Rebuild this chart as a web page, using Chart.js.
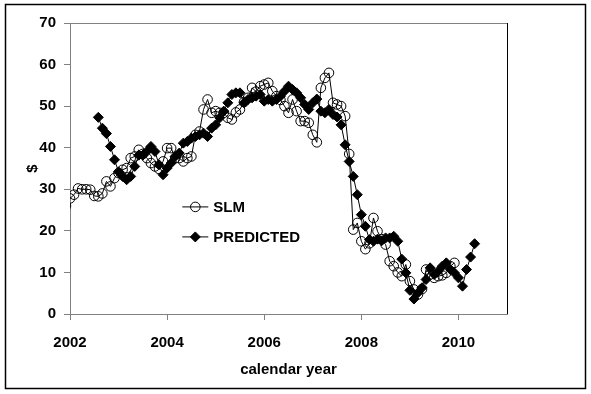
<!DOCTYPE html>
<html>
<head>
<meta charset="utf-8">
<script src="https://cdn.jsdelivr.net/npm/chart.js@4.4.1/dist/chart.umd.min.js"></script>
<style>
html, body { margin: 0; padding: 0; background: #fff; }
#marco { position: relative; width: 591px; height: 394px; }
</style>
</head>
<body>
<div id="marco"><canvas id="grafico" width="591" height="394"></canvas></div>
<script>
// SLM mensual, primer valor = diciembre 2001 (queda fuera del eje)
const slmInicio = [2001, 12];
const slmValores = [
    26.0,
    27.8, 28.7, 30.2, 30.0, 30.0, 29.9, 28.4, 28.3, 29.0, 31.9, 30.7, 32.7,
    33.9, 34.7, 35.1, 37.5, 37.9, 39.5, 38.5, 37.5, 36.3, 35.5, 34.9, 36.7,
    39.9, 39.9, 37.5, 37.5, 36.7, 37.5, 37.9, 43.1, 43.9, 49.2, 51.6, 48.4,
    48.8, 48.4, 48.4, 47.2, 46.8, 48.5, 49.2, 51.0, 52.0, 54.4, 53.5, 54.8,
    55.2, 55.6, 53.6, 52.4, 51.5, 50.0, 48.4, 51.6, 48.8, 46.4, 46.4, 46.0,
    43.1, 41.3, 54.4, 56.8, 58.0, 50.8, 50.4, 50.0, 47.6, 38.5, 20.3, 21.9,
    17.5, 15.6, 17.0, 23.1, 19.9, 18.0, 16.7, 12.7, 11.5, 10.0, 9.1, 11.9,
    7.9, 5.9, 4.7, 6.0, 10.7, 9.5, 8.7, 9.1, 9.3, 9.9, 11.5, 12.3
];

// PREDICTED mensual desde agosto 2002
const predInicio = [2002, 8];
const predValores = [
    47.3, 44.7, 43.4, 40.3, 37.1,
    34.2, 33.1, 32.3, 33.1, 35.5, 38.2, 38.2, 39.1, 40.3, 39.1, 35.9, 33.5,
    35.1, 36.3, 37.9, 38.7, 41.1, 41.5, 42.3, 42.7, 43.1, 43.5, 42.7, 44.7,
    45.5, 47.2, 48.8, 50.8, 52.8, 53.2, 53.2, 50.8, 51.6, 52.0, 52.4, 52.8,
    51.2, 51.6, 51.2, 51.6, 52.4, 53.6, 54.8, 54.0, 53.2, 52.0, 50.4, 49.2,
    50.8, 51.7, 48.8, 48.4, 49.2, 48.0, 47.4, 45.5, 40.7, 36.7, 33.1, 28.7,
    23.9, 21.1, 17.9, 17.5, 18.0, 17.6, 18.3, 18.3, 18.7, 17.5, 13.2, 9.9,
    5.7, 3.6, 5.1, 6.3, 8.3, 11.1, 9.5, 10.3, 11.5, 12.3, 10.7, 9.9,
    8.7, 6.7, 10.7, 13.7, 16.9
];

const ticksAnios = [2002, 2004, 2006, 2008, 2010];
const ticksDolares = [0, 10, 20, 30, 40, 50, 60, 70];
const nombresSeries = ['SLM', 'PREDICTED'];

// mes -> año decimal
const aPuntos = (inicio, valores) =>
    valores.map((v, i) => ({ x: inicio[0] + (inicio[1] - 1 + i) / 12, y: v }));

const fuente = 'Liberation Sans, Arial, sans-serif';

// borde del area del grafico y recuadro exterior
const marcoPlugin = {
    id: 'marcoPlugin',
    afterDraw: (chart) => {
        const c = chart.ctx;
        const a = chart.chartArea;
        c.save();
        c.lineWidth = 1;
        c.strokeStyle = '#808080';
        c.beginPath();
        c.moveTo(a.left, a.top + 0.5);
        c.lineTo(a.right, a.top + 0.5);
        c.stroke();
        c.strokeStyle = '#000';
        c.beginPath();
        c.moveTo(a.right + 0.5, a.top);
        c.lineTo(a.right + 0.5, a.bottom);
        c.stroke();
        c.lineWidth = 1.5;
        c.strokeStyle = '#000';
        c.strokeRect(5.5, 4.5, chart.width - 11, chart.height - 10);
        c.restore();
    }
};

// leyenda dentro del area del grafico
const leyendaPlugin = {
    id: 'leyendaPlugin',
    afterDraw: (chart) => {
        const c = chart.ctx;
        const a = chart.chartArea;
        const x0 = a.left + (a.right - a.left) * 0.257;
        const y0 = a.top + (a.bottom - a.top) * 0.632;
        const paso = 30;
        c.save();
        chart.data.datasets.forEach((ds, i) => {
            const y = y0 + i * paso;
            c.strokeStyle = '#000';
            c.lineWidth = 1;
            c.beginPath();
            c.moveTo(x0, y);
            c.lineTo(x0 + 26, y);
            c.stroke();
            c.fillStyle = ds.pointBackgroundColor;
            c.strokeStyle = '#000';
            Chart.helpers.drawPoint(c, {
                pointStyle: ds.pointStyle,
                radius: ds.pointRadius,
                borderWidth: 1
            }, x0 + 13, y);
            c.fillStyle = '#000';
            c.font = 'bold 15px ' + fuente;
            c.textBaseline = 'middle';
            c.textAlign = 'left';
            c.fillText(nombresSeries[i], x0 + 31, y + 1);
        });
        c.restore();
    }
};

const dibujar_grafico = () => {
    const ctx = document.getElementById('grafico').getContext('2d');
    new Chart(ctx, {
        type: 'line',
        data: {
            datasets: [{
                label: nombresSeries[0],
                data: aPuntos(slmInicio, slmValores),
                borderColor: '#000',
                borderWidth: 1,
                pointStyle: 'circle',
                pointRadius: 4.8,
                pointBorderWidth: 1,
                pointBorderColor: '#000',
                pointBackgroundColor: 'rgba(0,0,0,0)',
                tension: 0,
                order: 1
            }, {
                label: nombresSeries[1],
                data: aPuntos(predInicio, predValores),
                borderColor: '#000',
                borderWidth: 1,
                pointStyle: 'rectRot',
                pointRadius: 5,
                pointBorderWidth: 1,
                pointBorderColor: '#000',
                pointBackgroundColor: '#000',
                tension: 0,
                order: 0
            }]
        },
        options: {
            responsive: false,
            animation: false,
            events: [],
            layout: { padding: { left: 0, top: 23, right: 84, bottom: 0 } },
            plugins: {
                legend: { display: false },
                tooltip: { enabled: false }
            },
            scales: {
                x: {
                    type: 'linear',
                    min: 2002,
                    max: 2011,
                    afterBuildTicks: (s) => { s.ticks = ticksAnios.map(v => ({ value: v })); },
                    afterFit: (s) => { s.height = 80; },
                    grid: { drawOnChartArea: false, drawTicks: true, tickLength: 6, color: '#808080' },
                    border: { color: '#808080', width: 1 },
                    ticks: {
                        color: '#000',
                        padding: 14,
                        maxRotation: 0,
                        font: { family: fuente, size: 15, weight: 'bold' },
                        callback: (v) => String(v)
                    },
                    title: {
                        display: true,
                        text: 'calendar year',
                        color: '#000',
                        padding: { top: 0, bottom: 15 },
                        font: { family: fuente, size: 15, weight: 'bold' }
                    }
                },
                y: {
                    min: 0,
                    max: 70,
                    afterBuildTicks: (s) => { s.ticks = ticksDolares.map(v => ({ value: v })); },
                    afterFit: (s) => { s.width = 70; },
                    grid: { drawOnChartArea: false, drawTicks: true, tickLength: 6, color: '#808080' },
                    border: { color: '#808080', width: 1 },
                    ticks: {
                        color: '#000',
                        padding: 8,
                        font: { family: fuente, size: 15, weight: 'bold' }
                    },
                    title: {
                        display: true,
                        text: '$',
                        color: '#000',
                        padding: { top: 24, bottom: 0 },
                        font: { family: fuente, size: 15, weight: 'bold' }
                    }
                }
            }
        },
        plugins: [marcoPlugin, leyendaPlugin]
    });
};

dibujar_grafico();
</script>
</body>
</html>
